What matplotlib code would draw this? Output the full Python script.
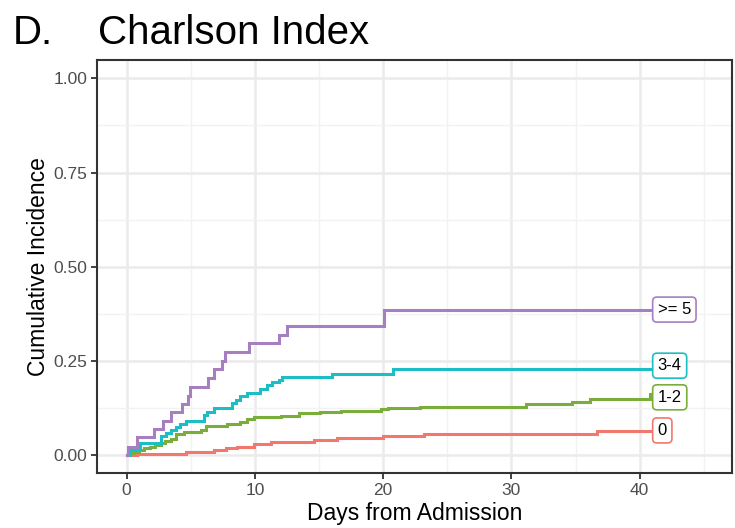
import numpy as np
import matplotlib.pyplot as plt
from matplotlib.ticker import MultipleLocator

plt.rcParams['font.family'] = ['Liberation Sans', 'DejaVu Sans']

#Cumulative incidence step curves (days, value after step)
groups = ['0', '1-2', '3-4', '>= 5']
colors = ['#F2786D', '#79AE3B', '#1DBDC5', '#A67FC0']

t_0 = [0, 0.83, 4.6, 6.8, 7.72, 8.63, 9.92, 11.22, 14.6, 16.4, 20.0, 23.2, 36.7, 40.8]
ci_0 = [0, 0.003, 0.009, 0.013, 0.018, 0.022, 0.028, 0.034, 0.040, 0.044, 0.050, 0.055, 0.064, 0.064]

t_12 = [0, 0.3, 0.6, 1.0, 1.35, 1.8, 2.2, 2.65, 3.0, 3.43, 3.82, 4.47, 5.77, 6.16, 7.85, 8.88,
        9.4, 9.92, 12.0, 13.43, 15.1, 16.7, 19.8, 20.4, 22.9, 31.1, 34.7, 36.1, 40.8, 40.8]
ci_12 = [0, 0.004, 0.008, 0.013, 0.018, 0.022, 0.026, 0.031, 0.036, 0.042, 0.056, 0.062, 0.066,
         0.077, 0.082, 0.088, 0.095, 0.102, 0.104, 0.110, 0.113, 0.117, 0.121, 0.124, 0.128,
         0.134, 0.140, 0.149, 0.149, 0.162]

t_34 = [0, 0.2, 1.04, 2.65, 3.04, 3.43, 3.82, 4.2, 4.6, 6.03, 6.3, 6.8, 8.18, 8.5, 8.88, 9.4,
        10.44, 10.96, 11.35, 11.87, 12.13, 16.03, 20.8, 40.8]
ci_34 = [0, 0.013, 0.031, 0.049, 0.058, 0.066, 0.075, 0.082, 0.091, 0.106, 0.115, 0.125, 0.137,
         0.146, 0.157, 0.165, 0.174, 0.186, 0.194, 0.199, 0.206, 0.214, 0.228, 0.228]

t_5 = [0, 0.15, 0.83, 2.13, 2.85, 3.5, 4.34, 4.78, 4.93, 6.34, 6.8, 7.46, 7.64, 9.53, 11.87,
       12.52, 20.1, 40.8]
ci_5 = [0, 0.022, 0.047, 0.068, 0.091, 0.113, 0.135, 0.156, 0.181, 0.203, 0.227, 0.249, 0.274,
        0.296, 0.318, 0.343, 0.386, 0.386]

#label placement (repelled slightly from line ends)
label_x = 41.4
label_y = [0.065, 0.153, 0.237, 0.386]

times = [t_0, t_12, t_34, t_5]
cis = [ci_0, ci_12, ci_34, ci_5]

fig = plt.figure(figsize=(7.35, 5.28), dpi=100)
ax = fig.add_axes([0.1324, 0.1042, 0.8631, 0.7822])

for t, c, col in zip(times, cis, colors):
    ax.plot(t, c, drawstyle='steps-post', color=col, lw=2.2, solid_joinstyle='miter', zorder=3)

for g, y, col in zip(groups, label_y, colors):
    ax.text(label_x, y, g, fontsize=12, color='black', va='center', ha='left', zorder=4,
            bbox=dict(boxstyle='round,pad=0.3,rounding_size=0.25', fc='white', ec=col, lw=1.2))

ax.set_xlim(-2.28, 47.17)
ax.set_ylim(-0.048, 1.049)
ax.xaxis.set_major_locator(MultipleLocator(10))
ax.xaxis.set_minor_locator(MultipleLocator(5))
ax.yaxis.set_major_locator(MultipleLocator(0.25))
ax.yaxis.set_minor_locator(MultipleLocator(0.125))
ax.yaxis.set_major_formatter(plt.FuncFormatter(lambda v, p: '%.2f' % v))

ax.grid(which='major', color='#EBEBEB', lw=1.8, zorder=0)
ax.grid(which='minor', color='#F2F2F2', lw=1.0, zorder=0)
ax.set_axisbelow(True)
for s in ax.spines.values():
    s.set_color('#333333')
    s.set_linewidth(1.5)
ax.tick_params(which='major', length=4, width=1.3, color='#333333', labelsize=12.5,
               labelcolor='#4D4D4D', pad=3)
ax.tick_params(which='minor', length=0)

ax.set_xlabel('Days from Admission', fontsize=16.5, labelpad=3)
ax.set_ylabel('Cumulative Incidence', fontsize=16.5, labelpad=3)

fig.text(0.017, 0.917, 'D.', fontsize=29, ha='left', va='baseline')
fig.text(0.133, 0.917, 'Charlson Index', fontsize=29, ha='left', va='baseline')

fig.savefig('out.png', dpi=100)
